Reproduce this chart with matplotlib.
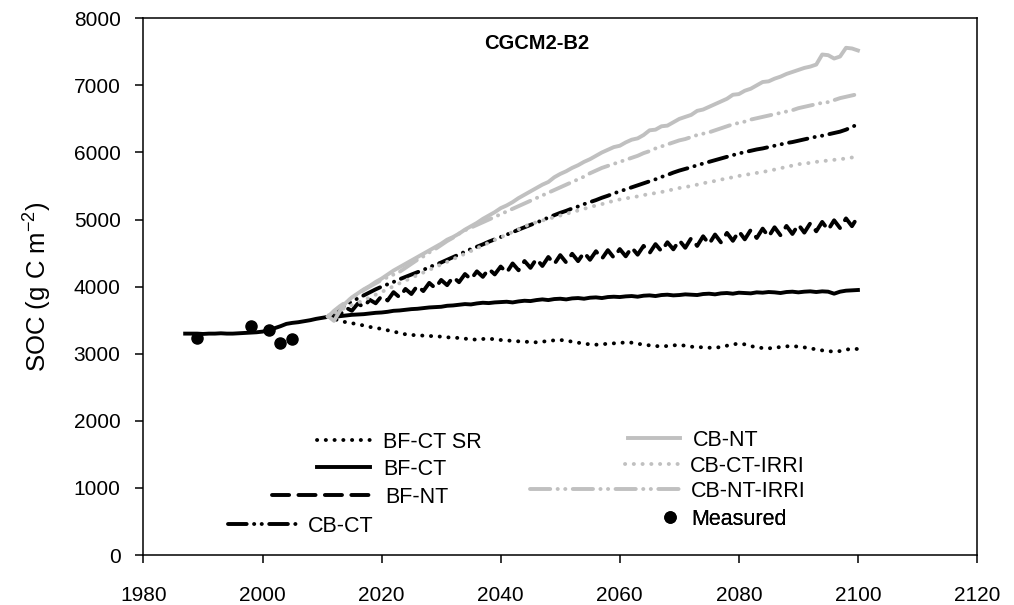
import numpy as np
import matplotlib
matplotlib.use('Agg')
import matplotlib.pyplot as plt

plt.rcParams['font.family'] = ['Liberation Sans', 'DejaVu Sans']
plt.rcParams['mathtext.default'] = 'regular'

# simulated SOC (g C m-2), annual values
bfct_start = 1987
bfct = [3300, 3300, 3300, 3295, 3300, 3300, 3305, 3300, 3300, 3305,
        3310, 3315, 3320, 3330, 3350, 3380, 3410, 3445, 3460, 3470,
        3485, 3500, 3520, 3535, 3550, 3545, 3560, 3570, 3580, 3585,
        3590, 3600, 3610, 3615, 3625, 3640, 3645, 3655, 3665, 3670,
        3680, 3690, 3695, 3700, 3715, 3720, 3730, 3740, 3735, 3750,
        3760, 3755, 3765, 3770, 3775, 3765, 3780, 3790, 3785, 3800,
        3810, 3800, 3815, 3820, 3810, 3825, 3830, 3820, 3835, 3840,
        3830, 3845, 3850, 3845, 3855, 3860, 3850, 3865, 3870, 3860,
        3875, 3880, 3870, 3875, 3885, 3880, 3875, 3890, 3895, 3885,
        3900, 3905, 3895, 3910, 3905, 3900, 3915, 3910, 3920, 3915,
        3905, 3920, 3925, 3915, 3925, 3930, 3920, 3930, 3925, 3895,
        3925, 3940, 3945, 3950]

# scenario runs, 2011-2100
scen_start = 2011
bfct_sr = [3550, 3520, 3490, 3470, 3455, 3440, 3420, 3400, 3385, 3370,
           3350, 3330, 3310, 3290, 3280, 3275, 3270, 3265, 3260, 3255,
           3245, 3240, 3235, 3225, 3215, 3210, 3220, 3225, 3215, 3205,
           3200, 3190, 3185, 3180, 3175, 3170, 3180, 3190, 3200, 3205,
           3195, 3180, 3165, 3150, 3140, 3135, 3140, 3150, 3155, 3160,
           3170, 3165, 3150, 3135, 3125, 3115, 3110, 3115, 3125, 3130,
           3120, 3105, 3100, 3095, 3090, 3090, 3100, 3120, 3140, 3150,
           3140, 3115, 3095, 3085, 3080, 3090, 3100, 3110, 3115, 3105,
           3095, 3080, 3065, 3050, 3040, 3030, 3040, 3060, 3075, 3070]

bfnt = [3550, 3622, 3575, 3687, 3640, 3748, 3696, 3804, 3752, 3860,
        3794, 3918, 3842, 3966, 3890, 4012, 3934, 4056, 3978, 4100,
        4022, 4144, 4066, 4188, 4110, 4228, 4146, 4264, 4182, 4300,
        4208, 4346, 4244, 4382, 4280, 4414, 4308, 4442, 4336, 4470,
        4360, 4490, 4380, 4510, 4400, 4528, 4416, 4544, 4432, 4560,
        4452, 4584, 4476, 4608, 4500, 4634, 4528, 4662, 4556, 4690,
        4579, 4723, 4607, 4751, 4635, 4777, 4659, 4801, 4683, 4825,
        4705, 4845, 4725, 4865, 4745, 4885, 4765, 4905, 4785, 4925,
        4805, 4945, 4825, 4965, 4845, 4989, 4873, 5017, 4901, 5045]

cbct = [3550, 3610, 3670, 3725, 3780, 3825, 3870, 3915, 3960, 4000,
        4035, 4070, 4110, 4145, 4180, 4215, 4250, 4290, 4325, 4360,
        4400, 4440, 4480, 4520, 4560, 4595, 4630, 4670, 4705, 4740,
        4775, 4810, 4850, 4885, 4920, 4955, 4990, 5030, 5065, 5100,
        5130, 5165, 5195, 5230, 5260, 5290, 5325, 5355, 5390, 5420,
        5450, 5480, 5510, 5540, 5570, 5600, 5635, 5665, 5700, 5730,
        5755, 5780, 5810, 5835, 5860, 5885, 5910, 5935, 5960, 5985,
        6005, 6025, 6045, 6060, 6080, 6100, 6120, 6140, 6155, 6175,
        6195, 6215, 6235, 6250, 6270, 6290, 6310, 6340, 6380, 6420]

cbnt = [3560, 3490, 3640, 3760, 3840, 3900, 3960, 4010, 4070, 4120,
        4180, 4240, 4290, 4340, 4390, 4440, 4490, 4540, 4590, 4640,
        4700, 4740, 4790, 4850, 4900, 4950, 5010, 5060, 5110, 5170,
        5210, 5260, 5320, 5370, 5420, 5470, 5520, 5560, 5630, 5680,
        5720, 5770, 5810, 5860, 5900, 5950, 6000, 6040, 6080, 6100,
        6150, 6190, 6210, 6260, 6330, 6340, 6390, 6400, 6450, 6500,
        6530, 6560, 6620, 6640, 6680, 6720, 6760, 6800, 6860, 6870,
        6920, 6950, 7000, 7050, 7060, 7100, 7130, 7170, 7200, 7230,
        7260, 7280, 7310, 7460, 7450, 7400, 7430, 7560, 7550, 7520]

cbct_irri = [3550, 3600, 3645, 3690, 3725, 3760, 3800, 3840, 3880, 3920,
             3965, 4005, 4050, 4090, 4130, 4170, 4210, 4250, 4290, 4330,
             4370, 4410, 4450, 4490, 4530, 4570, 4615, 4655, 4695, 4735,
             4775, 4815, 4855, 4895, 4935, 4960, 4985, 5010, 5035, 5060,
             5085, 5110, 5135, 5160, 5185, 5210, 5230, 5255, 5280, 5300,
             5315, 5330, 5345, 5365, 5380, 5395, 5410, 5430, 5450, 5470,
             5485, 5500, 5520, 5540, 5560, 5575, 5595, 5615, 5630, 5650,
             5665, 5680, 5695, 5710, 5725, 5745, 5765, 5785, 5805, 5825,
             5835, 5845, 5860, 5870, 5880, 5890, 5900, 5910, 5925, 5950]

cbnt_irri = [3550, 3640, 3710, 3770, 3830, 3890, 3950, 4000, 4050, 4100,
             4140, 4180, 4220, 4280, 4340, 4400, 4450, 4510, 4560, 4620,
             4680, 4730, 4790, 4840, 4880, 4920, 4960, 5000, 5040, 5080,
             5120, 5160, 5200, 5240, 5280, 5320, 5360, 5400, 5440, 5480,
             5520, 5560, 5600, 5640, 5690, 5730, 5770, 5800, 5830, 5860,
             5890, 5920, 5950, 5990, 6020, 6060, 6090, 6120, 6150, 6180,
             6200, 6230, 6260, 6280, 6300, 6330, 6360, 6390, 6420, 6440,
             6460, 6490, 6510, 6530, 6550, 6570, 6590, 6610, 6630, 6660,
             6680, 6700, 6720, 6740, 6750, 6780, 6810, 6830, 6850, 6870]

meas_years = [1989, 1998, 2001, 2003, 2005]
meas_soc = [3230, 3410, 3350, 3160, 3220]

GRAY = '#c0c0c0'
LW = 2.8

# label, values, first year, colour, dash pattern
runs = [
    ('BF-CT SR', bfct_sr, scen_start, 'black', (0, (0.05, 2.2))),
    ('BF-CT', bfct, bfct_start, 'black', '-'),
    ('BF-NT', bfnt, scen_start, 'black', (0, (4.4, 2.4))),
    ('CB-CT', cbct, scen_start, 'black', (0, (4.8, 1.9, 0.05, 1.9, 0.05, 1.9))),
    ('CB-NT', cbnt, scen_start, GRAY, '-'),
    ('CB-CT-IRRI', cbct_irri, scen_start, GRAY, (0, (0.05, 2.2))),
    ('CB-NT-IRRI', cbnt_irri, scen_start, GRAY, (0, (5.2, 1.9, 0.05, 1.9, 0.05, 1.9))),
]

fig = plt.figure(figsize=(10.14, 6.05), dpi=100)
ax = fig.add_axes([0.1415, 0.0826, 0.822, 0.8872])

handles = {}
for label, vals, y0, col, ls in runs:
    yrs = np.arange(y0, y0 + len(vals))
    ln, = ax.plot(yrs, vals, color=col, lw=LW, linestyle=ls,
                  dash_capstyle='round', solid_joinstyle='round')
    handles[label] = ln
pts, = ax.plot(meas_years, meas_soc, 'o', color='black', ms=8, zorder=5)
handles['Measured'] = pts

ax.set_xlim(1980, 2120)
ax.set_ylim(0, 8000)
ax.set_xticks(np.arange(1980, 2121, 20))
ax.set_yticks(np.arange(0, 8001, 1000))
ax.tick_params(direction='out', length=6, width=1.1, labelsize=15,
               top=False, right=False)
ax.tick_params(axis='x', pad=16)
ax.tick_params(axis='y', pad=10.5)
for s in ax.spines.values():
    s.set_linewidth(1.1)
ax.set_ylabel('SOC (g C m$^{-2}$)', fontsize=18.5, labelpad=14)
ax.text(2046, 7630, 'CGCM2-B2', ha='center', va='center',
        fontsize=14.5, fontweight='bold')

# legend entries placed one by one: handle start, handle end, text start, row (px)
FS = 15.5
em = FS * 100 / 72
ax_x0, ax_w, ax_y0, ax_h = 143.5, 833.5, 555.0, 536.7
keys = [
    ('BF-CT SR', 317, 370, 385, 442),
    ('BF-CT', 317, 370, 385, 469),
    ('BF-NT', 272, 370, 387, 497),
    ('CB-CT', 228, 300, 310, 526),
    ('CB-NT', 628, 680, 695, 440),
    ('CB-CT-IRRI', 625, 680, 692, 466),
    ('CB-NT-IRRI', 530, 680, 693, 491),
    ('Measured', 660, 680, 693, 519),
]
for label, hx0, hx1, tx, ry in keys:
    leg = ax.legend([handles[label]], [label], loc='center left',
                    bbox_to_anchor=((hx0 - ax_x0) / ax_w, (ax_y0 - ry) / ax_h),
                    handlelength=(hx1 - hx0) / em,
                    handletextpad=(tx - hx1) / em - 0.1,
                    frameon=False, fontsize=FS, borderpad=0, borderaxespad=0,
                    numpoints=1)
    ax.add_artist(leg)

fig.savefig('out.png', dpi=100)
